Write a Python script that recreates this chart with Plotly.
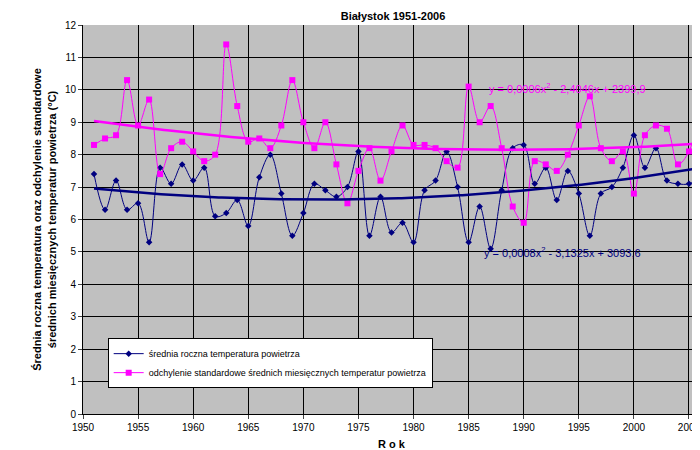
import numpy as np
import plotly.graph_objects as go

years = list(range(1951, 2007))
temp = [7.4, 6.3, 7.2, 6.3, 6.5, 5.3, 7.6, 7.1, 7.7, 7.2,
        7.6, 6.1, 6.2, 6.6, 5.8, 7.3, 8.0, 6.8, 5.5, 6.2,
        7.1, 6.9, 6.7, 7.0, 8.1, 5.5, 6.7, 5.6, 5.9, 5.3,
        6.9, 7.2, 8.1, 7.0, 5.3, 6.4, 5.1, 6.9, 8.2, 8.3,
        7.1, 7.6, 6.6, 7.5, 6.8, 5.5, 6.8, 7.0, 7.6, 8.6,
        7.6, 8.2, 7.2, 7.1, 7.1, 7.3]
odch = [8.3, 8.5, 8.6, 10.3, 8.9, 9.7, 7.4, 8.2, 8.4, 8.1,
        7.8, 8.0, 11.4, 9.5, 8.4, 8.5, 8.2, 8.9, 10.3, 9.0,
        8.2, 9.0, 7.7, 6.5, 7.5, 8.2, 7.2, 8.1, 8.9, 8.3,
        8.3, 8.2, 7.8, 7.6, 10.1, 9.0, 9.5, 8.2, 6.4, 5.9,
        7.8, 7.7, 7.5, 8.0, 8.9, 9.8, 8.2, 7.8, 8.1, 6.8,
        8.6, 8.9, 8.8, 7.7, 8.1, 9.4]

BLUE = "#000080"
PINK = "#FF00FF"

# trend lines: 2nd degree polynomial fit, as in the spreadsheet
yr = np.array(years, dtype=float)
xs = np.linspace(1951, 2006, 200)
trend_t = np.polyval(np.polyfit(yr - 1978, temp, 2), xs - 1978)
trend_o = np.polyval(np.polyfit(yr - 1978, odch, 2), xs - 1978)

fig = go.Figure()
fig.add_trace(go.Scatter(x=years, y=temp, mode="lines+markers", line=dict(color=BLUE, width=1, shape="spline"),
                         marker=dict(symbol="diamond", size=5, color=BLUE), cliponaxis=False,
                         name="średnia roczna temperatura powietrza"))
fig.add_trace(go.Scatter(x=years, y=odch, mode="lines+markers", line=dict(color=PINK, width=1, shape="spline"),
                         marker=dict(symbol="square", size=6, color=PINK), cliponaxis=False,
                         name="odchylenie standardowe średnich miesięcznych temperatur powietrza"))
fig.add_trace(go.Scatter(x=xs, y=trend_t, mode="lines", line=dict(color=BLUE, width=2.5), showlegend=False, hoverinfo="skip"))
fig.add_trace(go.Scatter(x=xs, y=trend_o, mode="lines", line=dict(color=PINK, width=2.5), showlegend=False, hoverinfo="skip"))

fig.add_annotation(x=1994, y=10.05, text="y = 0,0006x<sup>2</sup> - 2,4046x + 2399,9", showarrow=False,
                   font=dict(color=PINK, size=11))
fig.add_annotation(x=1993.5, y=5.0, text="y = 0,0008x<sup>2</sup> - 3,1325x + 3093,6", showarrow=False,
                   font=dict(color=BLUE, size=11))

fig.update_layout(
    width=700, height=450,
    margin=dict(l=75, r=8, t=17, b=44),
    paper_bgcolor="white", plot_bgcolor="#C0C0C0",
    font=dict(family="Arial, Liberation Sans, sans-serif", size=10, color="black"),
    title=dict(text="<b>Białystok 1951-2006</b>", x=0.55, y=0.99, xanchor="center", font=dict(size=11)),
    legend=dict(x=0.04, y=0.195, xanchor="left", yanchor="top", bgcolor="white",
                bordercolor="black", borderwidth=1, font=dict(size=9), itemwidth=30,
                tracegroupgap=14),
)
fig.update_xaxes(range=[1950, 2006], dtick=5, tick0=1950, showgrid=True, gridcolor="black", gridwidth=1,
                 showline=True, linecolor="black", ticks="outside", ticklen=4, zeroline=False,
                 title=dict(text="<b>R o k</b>", font=dict(size=11), standoff=8))
fig.update_yaxes(range=[0, 12], dtick=1, showgrid=True, gridcolor="black", gridwidth=1,
                 showline=True, linecolor="black", ticks="outside", ticklen=4, zeroline=False,
                 title=dict(text="<b>Średnia roczna temperatura oraz odchylenie standardowe<br>średnich miesięcznych temperatur powietrza (°C)</b>",
                            font=dict(size=11), standoff=6))

fig.write_html("out.html")
